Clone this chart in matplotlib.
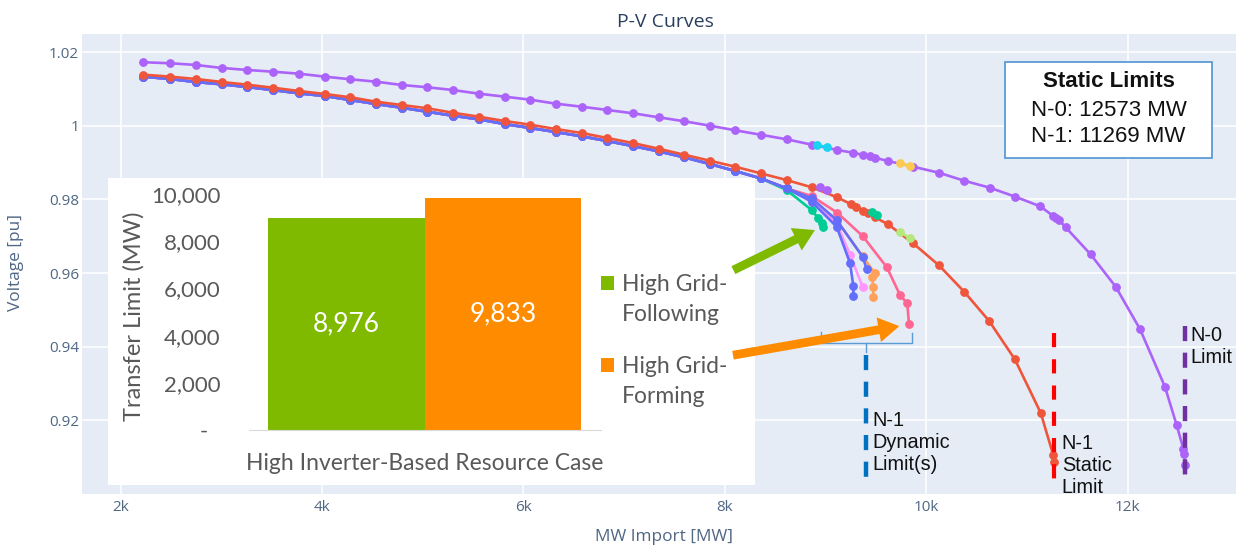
import numpy as np
import matplotlib.pyplot as plt
from matplotlib.patches import Rectangle, FancyArrowPatch

plt.rcParams['font.family'] = ['Open Sans', 'DejaVu Sans']

# ---------------- data ----------------
# N-0 static P-V curve (purple)
n0_mw = [2225, 2491, 2746, 3004, 3255, 3510, 3769, 4027, 4281, 4536, 4791, 5046,
         5298, 5556, 5814, 6068, 6321, 6579, 6833, 7088, 7343, 7598, 7853, 8104, 8356,
         8615, 8866, 9117, 9276, 9375, 9442, 9491, 9623, 9871, 10127, 10378, 10633,
         10885, 11133, 11262, 11289, 11322, 11385, 11633, 11882, 12123, 12371, 12487,
         12553, 12563, 12570]
n0_v = [1.01723, 1.01696, 1.0165, 1.01568, 1.01514, 1.01467, 1.01413, 1.01332, 1.01261,
        1.01196, 1.01106, 1.01043, 1.0097, 1.0087, 1.00788, 1.00707, 1.00598, 1.00516,
        1.00427, 1.00337, 1.00228, 1.0012, 1.0, 0.99875, 0.99755, 0.9963, 0.99484,
        0.9934, 0.99266, 0.99204, 0.99168, 0.9913, 0.9904, 0.98886, 0.98723, 0.98505,
        0.98315, 0.98071, 0.9781, 0.97546, 0.975, 0.97429, 0.97239, 0.96505, 0.95625,
        0.94476, 0.92908, 0.91867, 0.91234, 0.91098, 0.9078]

# N-1 static P-V curve (red)
n1_mw = [2225, 2491, 2746, 3004, 3255, 3510, 3769, 4027, 4281, 4536, 4791, 5046,
         5298, 5556, 5814, 6068, 6321, 6579, 6833, 7088, 7343, 7598, 7853, 8104, 8356,
         8614, 8866, 9117, 9250, 9300, 9375, 9425, 9491, 9623, 9871, 10127, 10378,
         10626, 10881, 11137, 11262, 11269]
n1_v = [1.01386, 1.01332, 1.01269, 1.01188, 1.01114, 1.01033, 1.00943, 1.00861, 1.00772,
        1.00652, 1.00563, 1.00473, 1.00353, 1.00245, 1.00128, 1.00027, 0.9991, 0.99802,
        0.99666, 0.9953, 0.99375, 0.99212, 0.99049, 0.98886, 0.98707, 0.98524, 0.98326,
        0.98054, 0.97872, 0.97799, 0.97689, 0.97619, 0.97511, 0.97321, 0.96804, 0.96207,
        0.95489, 0.94693, 0.93652, 0.92201, 0.91052, 0.9087]

# shared start of the dynamic (N-1) curves
dyn_base_mw = [2225, 2491, 2746, 3004, 3255, 3510, 3769, 4027, 4281, 4536, 4791, 5046,
               5298, 5556, 5814, 6068, 6321, 6579, 6833, 7088, 7343, 7598, 7853, 8104, 8356]
dyn_base_v = [1.01332, 1.01269, 1.01188, 1.01125, 1.01052, 1.0097, 1.0088, 1.00807, 1.00698,
              1.0059, 1.00489, 1.0038, 1.00272, 1.00174, 1.00046, 0.99938, 0.99829, 0.99712,
              0.99584, 0.99448, 0.99304, 0.99141, 0.98959, 0.98769, 0.98571]

# tails of the dynamic curves after they leave the shared start
dyn_colors = ['#00CC96', '#FFA15A', '#FF97FF', '#FF6692', '#636EFA', '#636EFA']
dyn_tail_mw = [
    [8614, 8863, 8928, 8962, 8978],
    [8614, 8863, 9111, 9369, 9491, 9459, 9475, 9475],
    [8614, 8863, 9111, 9243, 9369],
    [8614, 8863, 9117, 9369, 9610, 9740, 9812, 9829],
    [8614, 8863, 9111, 9369, 9409],
    [8614, 8863, 9111, 9243, 9276, 9276],
]
dyn_tail_v = [
    [0.98253, 0.97709, 0.97484, 0.97348, 0.97255],
    [0.98299, 0.9801, 0.9743, 0.9645, 0.95989, 0.95897, 0.95625, 0.95353],
    [0.98299, 0.9799, 0.9735, 0.9650, 0.95625],
    [0.98299, 0.9809, 0.97636, 0.97003, 0.96152, 0.954, 0.95174, 0.94611],
    [0.98299, 0.98027, 0.97437, 0.9644, 0.96106],
    [0.98299, 0.97935, 0.97255, 0.96277, 0.95652, 0.95372],
]

# short overlapping traces hidden on the static curves
blip_colors = ['#19D3F3', '#FECB52', '#AB63FA', '#00CC96', '#B6E880']
blip_mw = [[8918, 9017], [9740, 9840], [8945, 9011], [9458, 9508], [9740, 9840]]
blip_v = [[0.99476, 0.99413], [0.98978, 0.98905], [0.98342, 0.98253],
          [0.97663, 0.97573], [0.9712, 0.9694]]

n0_limit = 12573
n1_limit = 11269
dyn_limits = [8976, 9833]

# inset bar chart
bar_cases = ['High Grid-\nFollowing', 'High Grid-\nForming']
bar_values = [8976, 9833]
bar_colors = ['#7FBA00', '#FF8C00']

# ---------------- figure ----------------
W, H = 1236, 546
fig = plt.figure(figsize=(W / 100, H / 100), dpi=100)


def fx(px):
    return px / W


def fy(py):
    return 1 - py / H


ax = fig.add_axes([fx(82), fy(494), fx(1236) - fx(82), fy(34) - fy(494)])
ax.set_facecolor('#E5ECF6')
ax.set_xlim(1617, 13076)
ax.set_ylim(0.9, 1.0249)
for s in ax.spines.values():
    s.set_visible(False)
ax.set_xticks([2000, 4000, 6000, 8000, 10000, 12000], ['2k', '4k', '6k', '8k', '10k', '12k'])
ax.set_yticks([0.92, 0.94, 0.96, 0.98, 1.0, 1.02], ['0.92', '0.94', '0.96', '0.98', '1', '1.02'])
ax.tick_params(length=0, labelsize=11, colors='#506784')
ax.tick_params(axis='x', pad=4)
ax.tick_params(axis='y', pad=2)
ax.grid(color='white', lw=1.1)
ax.set_axisbelow(True)

line_kw = dict(lw=1.9, marker='o', ms=5.3)
for c, tx, tv in zip(dyn_colors, dyn_tail_mw, dyn_tail_v):
    ax.plot(dyn_base_mw + tx, dyn_base_v + tv, color=c, **line_kw)
ax.plot(n1_mw, n1_v, color='#EF553B', **line_kw)
ax.plot(n0_mw, n0_v, color='#AB63FA', **line_kw)
for c, bx, bv in zip(blip_colors, blip_mw, blip_v):
    ax.plot(bx, bv, color=c, **line_kw)

# limit markers
ax.plot([n0_limit, n0_limit], [0.9456, 0.9042], color='#7030A0', lw=3.2, dashes=(3.4, 2.6))
ax.plot([n1_limit, n1_limit], [0.9436, 0.9024], color='#FF0000', lw=3.0, dashes=(3.4, 2.9))
dyn_mid = sum(dyn_limits) / 2
ax.plot([dyn_mid, dyn_mid], [0.9377, 0.9046], color='#0070C0', lw=3.2, dashes=(3.4, 2.6))

# bracket over the dynamic limits
br = '#5B9BD5'
ax.plot([dyn_limits[0] - 24, dyn_limits[0] - 24, dyn_limits[1] + 29, dyn_limits[1] + 29],
        [0.9440, 0.9410, 0.9410, 0.9437], color=br, lw=1)
ax.plot([dyn_mid, dyn_mid], [0.9410, 0.9386], color=br, lw=1)

tkw = dict(fontsize=14.3, family=['Liberation Sans', 'DejaVu Sans'], color='#111111',
           va='center', ha='left', linespacing=1.2)
ax.text(dyn_mid + 60, 0.91386, 'N-1\nDynamic\nLimit(s)', **tkw)
ax.text(n1_limit + 76, 0.9078, 'N-1\nStatic\nLimit', **tkw)
ax.text(n0_limit + 46, 0.93995, 'N-0\nLimit', **tkw)

# static limits box
ax.add_patch(Rectangle((0.7998, 0.7304), 0.1794, 0.2087, transform=ax.transAxes,
                       facecolor='white', edgecolor='#5B9BD5', lw=1.3, zorder=5))
bkw = dict(transform=ax.transAxes, ha='center', va='center', fontsize=16,
           family=['Liberation Sans', 'DejaVu Sans'], color='#111111', zorder=6)
ax.text(0.8895, 0.8957, 'Static Limits', fontweight='bold', **bkw)
ax.text(0.8895, 0.834, 'N-0: %d MW' % n0_limit, **bkw)
ax.text(0.8895, 0.7776, 'N-1: %d MW' % n1_limit, **bkw)

fig.text(fx(665), fy(22), 'P-V Curves', ha='center', va='center', fontsize=14, color='#2a3f5f')
fig.text(fx(664), fy(537), 'MW Import [MW]', ha='center', va='center', fontsize=12.4,
         color='#506784')
fig.text(fx(16), fy(262), 'Voltage [pu]', ha='center', va='center', rotation=90, fontsize=12.4,
         color='#506784')

# ---------------- inset bar chart ----------------
box = fig.add_axes([fx(108), fy(485), fx(755) - fx(108), fy(178) - fy(485)], zorder=3)
box.set_facecolor('white')
box.set_xticks([])
box.set_yticks([])
for s in box.spines.values():
    s.set_visible(False)
box.set_xlim(108, 755)
box.set_ylim(485, 178)

ins_font = ['Lato', 'DejaVu Sans']
grey = '#595959'
bx = fig.add_axes([fx(249.4), fy(430), (600.8 - 249.4) / W, (430 - 194) / H], zorder=4)
bx.patch.set_alpha(0)
bars = bx.bar([0, 1], bar_values, width=1, color=bar_colors)
bx.set_xlim(-0.622, 1.627)
bx.set_ylim(0, 10000)
for k in ['left', 'right', 'top']:
    bx.spines[k].set_visible(False)
bx.spines['bottom'].set_color('#D9D9D9')
bx.set_xticks([])
bx.set_yticks([0, 2000, 4000, 6000, 8000, 10000],
              ['-  ', '2,000', '4,000', '6,000', '8,000', '10,000'])
bx.tick_params(axis='y', length=0, pad=21, labelsize=16, labelcolor=grey)
for t in bx.get_yticklabels():
    t.set_family(ins_font)
bx.bar_label(bars, labels=['{:,}'.format(v) for v in bar_values], label_type='center',
             color='white', fontsize=19, family=ins_font)
bx.text(0.5, -33 / 236, 'High Inverter-Based Resource Case', transform=bx.transAxes,
        ha='center', va='center', fontsize=16.5, color=grey, family=ins_font)
bx.text((133.7 - 249.4) / 351.4, (430 - 316.7) / 236, 'Transfer Limit (MW)',
        transform=bx.transAxes, rotation=90, ha='center', va='center', fontsize=17,
        color=grey, family=ins_font)

# legend of the inset
for i, (lab, c) in enumerate(zip(bar_cases, bar_colors)):
    top = 276 + i * 82
    box.add_patch(Rectangle((601, top), 13, 14, facecolor=c, edgecolor='none'))
    box.text(622, top + 23.5, lab, ha='left', va='center', fontsize=16.5, color=grey,
             family=ins_font, linespacing=1.5)

# arrows from legend to the curves
arrows = [((8085, 0.96079), (8895, 0.97166), bar_colors[0]),
          ((8081, 0.93769), (9733, 0.94557), bar_colors[1])]
for a, b, c in arrows:
    fig.add_artist(FancyArrowPatch(a, b, transform=ax.transData, color=c, lw=0,
                                   arrowstyle='simple,head_length=1.0,head_width=1.2,tail_width=0.42',
                                   mutation_scale=15, shrinkA=0, shrinkB=0, zorder=6))

fig.savefig('out.png', dpi=100, facecolor='white')
